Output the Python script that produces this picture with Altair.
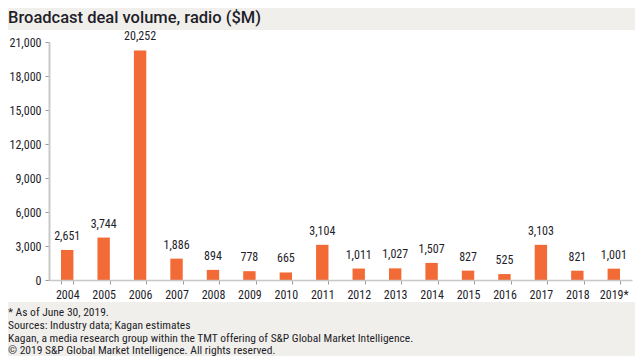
import altair as alt
import pandas as pd

years = ["2004", "2005", "2006", "2007", "2008", "2009", "2010", "2011",
         "2012", "2013", "2014", "2015", "2016", "2017", "2018", "2019*"]
values = [2651, 3744, 20252, 1886, 894, 778, 665, 3104,
          1011, 1027, 1507, 827, 525, 3103, 821, 1001]
y_ticks = [0, 3000, 6000, 9000, 12000, 15000, 18000, 21000]
title_text = "Broadcast deal volume, radio ($M)"
footer_lines = [
    "* As of June 30, 2019.",
    "Sources: Industry data; Kagan estimates",
    "Kagan, a media research group within the TMT offering of S&P Global Market Intelligence.",
    "\u00a9 2019 S&P Global Market Intelligence. All rights reserved.",
]

FONT = "Liberation Sans Narrow, Roboto Condensed, Arial Narrow, Roboto, sans-serif"
TXT = "#1e1e2a"
BAR = "#f26a36"

df = pd.DataFrame({"year": years, "value": values})
df["label"] = [f"{v:,}" for v in values]

x_enc = alt.X("year:N", sort=years, title=None,
              scale=alt.Scale(paddingInner=0.66, paddingOuter=0.33),
              axis=alt.Axis(labelAngle=0, tickBand="extent", domainColor="#c8c8c8",
                            domainWidth=1.5, tickColor="#9a9a9a", tickSize=4,
                            labelPadding=5, labelFontSize=12, labelFont=FONT,
                            labelColor=TXT, zindex=1))
y_enc = alt.Y("value:Q", title=None,
              scale=alt.Scale(domain=[0, 21000], nice=False),
              axis=alt.Axis(values=y_ticks, format=",.0f", grid=False,
                            labelOverlap=False,
                            domainColor="#c8c8c8", domainWidth=2,
                            tickColor="#9a9a9a", tickSize=4, labelPadding=4,
                            labelFontSize=12, labelFont=FONT, labelColor=TXT,
                            zindex=1))

panel = alt.Chart(pd.DataFrame({"k": [0]})).mark_rect(color="white").encode(
    x=alt.value(-41), x2=alt.value(587), y=alt.value(-12), y2=alt.value(260))

bars = alt.Chart(df).mark_bar(color=BAR).encode(x=x_enc, y=y_enc)
labels = alt.Chart(df).mark_text(dy=-7, baseline="bottom", font=FONT,
                                 fontSize=12, color=TXT).encode(
    x=x_enc, y=y_enc, text="label:N")

title = alt.Chart(pd.DataFrame({"t": [title_text]})).mark_text(
    align="left", baseline="middle", font="Roboto", fontSize=16.5,
    fontWeight=500, color=TXT).encode(
    x=alt.value(-41), y=alt.value(-24), text="t:N")

footer = alt.Chart(pd.DataFrame({"t": ["\n".join(footer_lines)]})).mark_text(
    align="left", baseline="top", font=FONT, fontSize=11.5, color=TXT,
    lineBreak="\n", lineHeight=12.8).encode(
    x=alt.value(-41), y=alt.value(265), text="t:N")

chart = alt.layer(panel, bars, labels, title, footer).properties(
    width=583, height=238,
    autosize=alt.AutoSizeParams(type="none"),
    padding={"left": 41, "top": 34, "right": 3, "bottom": 76},
    background="#f1efeb",
).configure_view(stroke=None)

chart.save("out.html", embed_options={"renderer": "svg", "actions": False})
